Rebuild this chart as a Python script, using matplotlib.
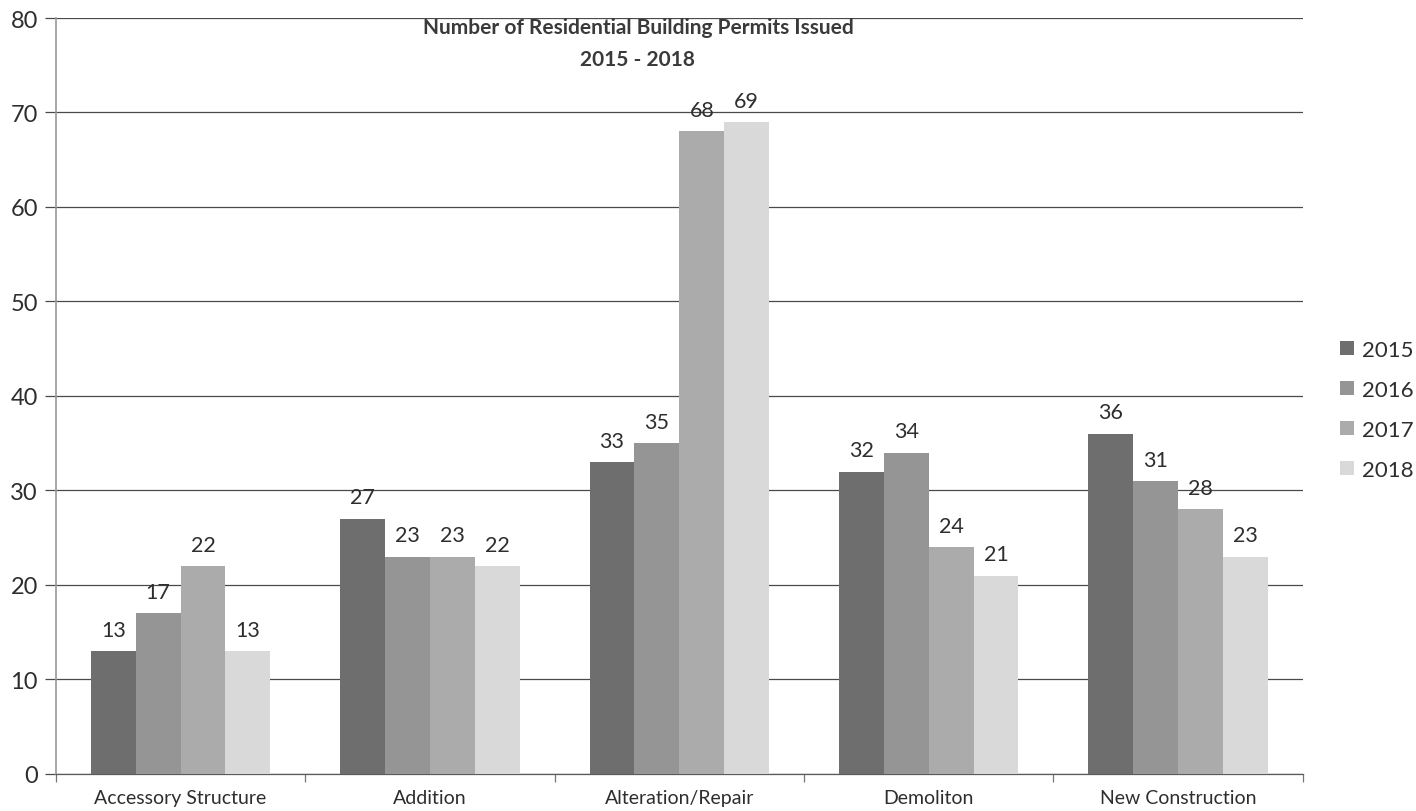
import numpy as np
import matplotlib
matplotlib.use('Agg')
import matplotlib.pyplot as plt
from matplotlib.patches import Patch

plt.rcParams['font.family'] = ['Lato', 'DejaVu Sans']

categories = ['Accessory Structure', 'Addition', 'Alteration/Repair', 'Demoliton', 'New Construction']
years = ['2015', '2016', '2017', '2018']
permits_2015 = [13, 27, 33, 32, 36]
permits_2016 = [17, 23, 35, 34, 31]
permits_2017 = [22, 23, 68, 24, 28]
permits_2018 = [13, 22, 69, 21, 23]
y_ticks = [0, 10, 20, 30, 40, 50, 60, 70, 80]

series = [permits_2015, permits_2016, permits_2017, permits_2018]
colors = ['#6e6e6e', '#959595', '#ababab', '#d9d9d9']
text_color = '#2e2e2e'

fig = plt.figure(figsize=(14.16, 8.12), dpi=100)
ax = fig.add_axes([0.0395, 0.0456, 0.8805, 0.931])

x = np.arange(len(categories))
width = 0.18
for i, (vals, col) in enumerate(zip(series, colors)):
    pos = x + (i - 1.5) * width
    ax.bar(pos, vals, width=width, color=col, edgecolor='none', zorder=3)
    for px, v in zip(pos, vals):
        ax.text(px, v + 1.2, str(v), ha='center', va='bottom',
                fontsize=15.5, color=text_color, zorder=4)

ax.set_xlim(-0.5, len(categories) - 0.5)
ax.set_ylim(0, 80)
ax.set_yticks(y_ticks)
ax.set_yticklabels([str(t) for t in y_ticks], fontsize=17, color=text_color)
ax.yaxis.grid(True, color='#4a4a4a', linewidth=0.9, zorder=0)
ax.tick_params(axis='y', length=8, color='#4a4a4a', width=0.9, pad=5)

# category labels centred, tick marks between the groups
ax.set_xticks(x)
ax.set_xticklabels(categories, fontsize=14, color=text_color)
ax.set_xticks(np.arange(len(categories) + 1) - 0.5, minor=True)
ax.tick_params(axis='x', which='major', length=0, pad=11)
ax.tick_params(axis='x', which='minor', length=6, color='#777777', width=0.9)

for side in ['top', 'right']:
    ax.spines[side].set_visible(False)
ax.spines['left'].set_color('#9a9a9a')
ax.spines['left'].set_linewidth(1.2)
ax.spines['bottom'].set_color('#5a5a5a')
ax.spines['bottom'].set_linewidth(0.9)

fig.text(0.4505, 0.965, 'Number of Residential Building Permits Issued',
         ha='center', va='center', fontsize=15, fontweight='bold', color='#3a3a3a')
fig.text(0.4505, 0.926, '2015 - 2018',
         ha='center', va='center', fontsize=15, fontweight='bold', color='#3a3a3a')

handles = [Patch(facecolor=c, edgecolor='none') for c in colors]
fig.legend(handles, years, loc='center left', bbox_to_anchor=(0.9465, 0.494),
           frameon=False, fontsize=16, handlelength=0.6, handleheight=0.6,
           handletextpad=0.4, labelspacing=0.9, labelcolor=text_color,
           borderaxespad=0, borderpad=0)

fig.savefig('out.png', dpi=100)
